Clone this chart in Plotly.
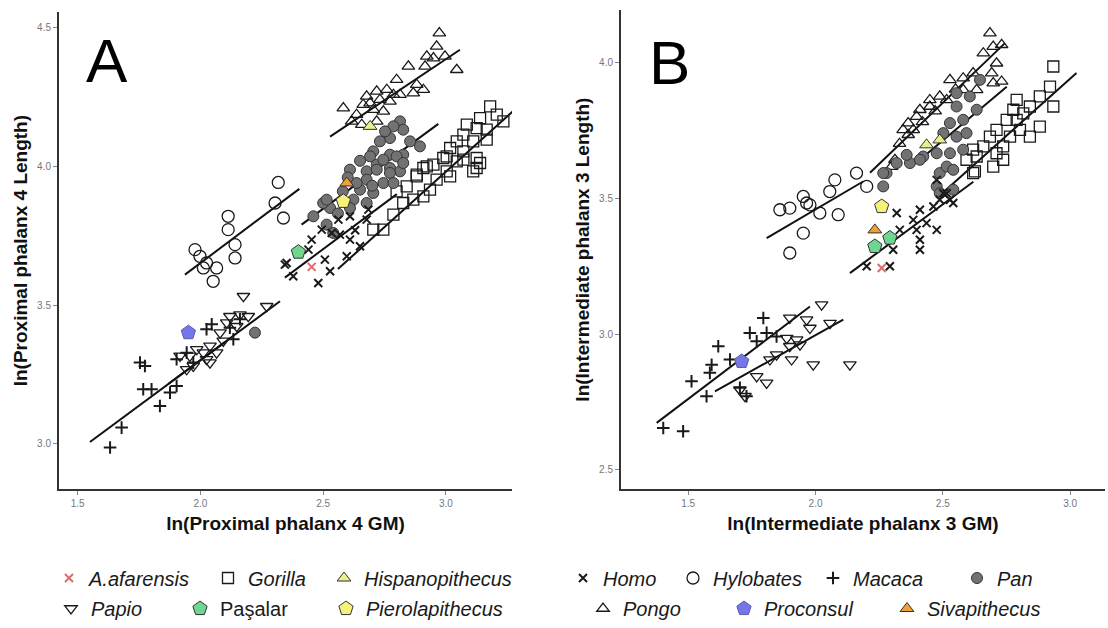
import plotly.graph_objects as go

# ---------------- Panel A : ln(Proximal phalanx 4 GM) vs ln(Proximal phalanx 4 Length)
A_pongo_x = [2.973, 2.962, 2.922, 2.949, 2.996, 2.915, 2.847, 3.044, 2.799, 2.881, 2.908, 2.867, 2.582, 2.677,
             2.718, 2.759, 2.691, 2.663, 2.731, 2.772, 2.786, 2.704, 2.745, 2.657, 2.718, 2.616, 2.636, 2.813]
A_pongo_y = [4.480, 4.432, 4.396, 4.390, 4.396, 4.360, 4.360, 4.348, 4.312, 4.294, 4.276, 4.264, 4.210, 4.252,
             4.270, 4.276, 4.228, 4.222, 4.240, 4.234, 4.258, 4.204, 4.198, 4.150, 4.162, 4.162, 4.186, 4.258]

A_pan_x = [2.813, 2.826, 2.786, 2.772, 2.854, 2.894, 2.731, 2.704, 2.772, 2.826, 2.718, 2.677, 2.772, 2.813, 2.752,
           2.691, 2.745, 2.799, 2.718, 2.772, 2.677, 2.745, 2.650, 2.704, 2.623, 2.677, 2.609, 2.528, 2.500, 2.636,
           2.609, 2.826, 2.786, 2.514, 2.541, 2.222, 2.600, 2.650, 2.700, 2.580, 2.560, 2.460, 2.514]
A_pan_y = [4.162, 4.132, 4.144, 4.102, 4.090, 4.072, 4.090, 4.054, 4.042, 4.042, 4.006, 3.982, 3.994, 3.982, 4.126,
           4.036, 4.024, 4.036, 3.988, 3.976, 3.952, 3.940, 3.916, 3.904, 3.880, 3.868, 3.850, 3.850, 3.868, 3.940,
           3.988, 4.012, 3.940, 3.790, 3.760, 3.401, 3.960, 4.020, 3.930, 3.910, 3.830, 3.820, 3.880]

A_gorilla_x = [3.180, 3.207, 3.234, 3.139, 3.125, 3.166, 3.085, 3.071, 3.111, 3.166, 3.044, 3.017, 3.071, 3.125,
               2.989, 3.044, 2.949, 3.003, 2.908, 2.881, 3.125, 3.003, 3.071, 3.139, 3.111, 3.017, 2.962, 2.922,
               2.881, 2.935, 2.840, 2.799, 2.867, 2.786, 2.745, 2.704, 2.826, 2.908]
A_gorilla_y = [4.216, 4.186, 4.162, 4.174, 4.138, 4.132, 4.150, 4.114, 4.090, 4.096, 4.090, 4.066, 4.054, 4.030,
               4.030, 4.018, 4.006, 3.982, 3.994, 3.970, 3.994, 4.036, 4.024, 4.012, 3.982, 3.964, 3.952, 4.000,
               3.964, 3.916, 3.928, 3.910, 3.880, 3.826, 3.772, 3.772, 3.868, 3.892]

A_homo_x = [2.344, 2.480, 2.528, 2.507, 2.596, 2.453, 2.494, 2.562, 2.609, 2.650, 2.677, 2.609, 2.568, 2.535,
            2.684, 2.378, 2.351, 2.440, 2.630]
A_homo_y = [3.646, 3.580, 3.622, 3.664, 3.676, 3.736, 3.772, 3.808, 3.820, 3.712, 3.808, 3.736, 3.754, 3.760,
            3.844, 3.604, 3.652, 3.700, 3.770]

A_hylobates_x = [2.317, 2.304, 2.338, 2.113, 2.113, 2.141, 2.141, 1.978, 1.998, 2.025, 2.066, 2.012, 2.052]
A_hylobates_y = [3.942, 3.868, 3.814, 3.820, 3.772, 3.718, 3.670, 3.700, 3.676, 3.652, 3.634, 3.634, 3.586]

A_macaca_x = [1.632, 1.679, 1.835, 1.767, 1.801, 1.774, 1.754, 1.876, 1.903, 2.025, 2.046, 1.903, 1.944, 1.971,
              2.134, 2.120, 2.161]
A_macaca_y = [2.987, 3.059, 3.137, 3.197, 3.197, 3.281, 3.293, 3.185, 3.209, 3.413, 3.431, 3.305, 3.329, 3.293,
              3.377, 3.419, 3.449]

A_papio_x = [2.175, 2.270, 2.120, 2.161, 2.195, 2.107, 2.148, 2.080, 2.039, 2.066, 2.025, 1.985, 1.957, 1.917,
             1.971, 1.944, 2.012, 2.039, 2.093]
A_papio_y = [3.532, 3.496, 3.460, 3.466, 3.460, 3.437, 3.424, 3.401, 3.353, 3.329, 3.305, 3.341, 3.317, 3.317,
             3.281, 3.269, 3.329, 3.293, 3.371]

A_afarensis_x, A_afarensis_y = [2.453], [3.638]
A_pasalar_x, A_pasalar_y = [2.399], [3.691]
A_pierola_x, A_pierola_y = [2.582], [3.874]
A_siva_x, A_siva_y = [2.596], [3.940]
A_hispano_x, A_hispano_y = [2.691], [4.144]
A_proconsul_x, A_proconsul_y = [1.951], [3.401]

# regression lines, panel A (x ends, y ends)
A_fit_pongo = ([2.528, 3.057], [4.107, 4.420])
A_fit_pan = ([2.412, 2.969], [3.790, 4.153])
A_fit_gorilla = ([2.560, 3.272], [3.630, 4.198])
A_fit_homo = ([2.344, 2.800], [3.599, 3.900])
A_fit_hylobates = ([1.937, 2.403], [3.610, 3.919])
A_fit_macaca = ([1.550, 2.100], [3.007, 3.367])
A_fit_papio = ([1.870, 2.324], [3.217, 3.514])

# ---------------- Panel B : ln(Intermediate phalanx 3 GM) vs ln(Intermediate phalanx 3 Length)
B_pongo_x = [2.685, 2.698, 2.731, 2.659, 2.711, 2.692, 2.731, 2.698, 2.619, 2.580, 2.528, 2.449, 2.488, 2.410,
             2.397, 2.364, 2.384, 2.344, 2.449, 2.515, 2.580, 2.633, 2.364, 2.312, 2.299, 2.420, 2.470, 2.550, 2.330]
B_pongo_y = [4.107, 4.057, 4.064, 4.033, 3.996, 3.960, 3.929, 3.923, 3.960, 3.941, 3.935, 3.861, 3.874, 3.825,
             3.800, 3.776, 3.751, 3.751, 3.837, 3.861, 3.898, 3.898, 3.733, 3.641, 3.616, 3.780, 3.820, 3.900, 3.700]

B_pan_x = [2.554, 2.606, 2.633, 2.580, 2.528, 2.502, 2.554, 2.593, 2.528, 2.580, 2.476, 2.423, 2.371, 2.319,
           2.279, 2.266, 2.488, 2.476, 2.515, 2.646, 2.554, 2.266, 2.358, 2.410, 2.488, 2.541, 2.541]
B_pan_y = [3.837, 3.874, 3.825, 3.788, 3.776, 3.739, 3.726, 3.739, 3.665, 3.678, 3.665, 3.653, 3.629, 3.629,
           3.592, 3.543, 3.592, 3.543, 3.616, 3.935, 3.886, 3.592, 3.659, 3.641, 3.518, 3.531, 3.604]

B_gorilla_x = [2.934, 2.934, 2.921, 2.881, 2.842, 2.790, 2.777, 2.816, 2.881, 2.842, 2.803, 2.751, 2.711, 2.764,
               2.737, 2.685, 2.659, 2.619, 2.633, 2.711, 2.737, 2.698, 2.619, 2.593, 2.790, 2.626]
B_gorilla_y = [3.984, 3.837, 3.910, 3.874, 3.837, 3.861, 3.825, 3.812, 3.763, 3.726, 3.751, 3.788, 3.751, 3.726,
               3.690, 3.726, 3.690, 3.678, 3.653, 3.665, 3.641, 3.616, 3.592, 3.641, 3.788, 3.598]

B_homo_x = [2.319, 2.201, 2.292, 2.305, 2.331, 2.384, 2.410, 2.436, 2.476, 2.410, 2.410, 2.463, 2.488, 2.515,
            2.541, 2.397, 2.476, 2.502, 2.528]
B_homo_y = [3.445, 3.249, 3.249, 3.310, 3.383, 3.420, 3.457, 3.408, 3.383, 3.347, 3.310, 3.469, 3.494, 3.518,
            3.482, 3.383, 3.567, 3.518, 3.494]

B_hylobates_x = [2.161, 2.201, 2.076, 2.056, 1.952, 1.978, 1.899, 2.017, 2.089, 1.952, 1.899, 1.860, 1.965]
B_hylobates_y = [3.592, 3.543, 3.567, 3.524, 3.506, 3.475, 3.463, 3.445, 3.439, 3.371, 3.298, 3.457, 3.482]

B_macaca_x = [1.402, 1.480, 1.513, 1.572, 1.585, 1.618, 1.664, 1.742, 1.795, 1.769, 1.808, 1.729, 1.703, 1.592,
              1.847]
B_macaca_y = [2.654, 2.642, 2.826, 2.771, 2.857, 2.955, 2.906, 3.004, 3.059, 2.973, 3.004, 2.771, 2.802, 2.887,
              2.991]

B_papio_x = [2.024, 1.965, 1.899, 2.057, 1.978, 1.887, 1.926, 1.899, 1.939, 1.906, 1.991, 2.135, 1.808, 1.703,
             1.723, 1.821, 1.769, 1.847]
B_papio_y = [3.108, 3.053, 3.059, 3.040, 3.022, 2.985, 2.979, 2.955, 2.961, 2.906, 2.887, 2.887, 2.820, 2.795,
             2.771, 2.906, 2.844, 2.924]

B_afarensis_x, B_afarensis_y = [2.260], [3.243]
B_pasalar_x, B_pasalar_y = [2.233, 2.292], [3.322, 3.353]
B_pierola_x, B_pierola_y = [2.260], [3.469]
B_siva_x, B_siva_y = [2.233], [3.383]
B_hispano_x, B_hispano_y = [2.436, 2.488], [3.696, 3.714]
B_proconsul_x, B_proconsul_y = [1.710], [2.899]

B_fit_pongo = ([2.214, 2.744], [3.593, 4.070])
B_fit_pan = ([2.410, 2.751], [3.641, 3.910])
B_fit_gorilla = ([2.500, 3.025], [3.520, 3.960])
B_fit_homo = ([2.135, 2.620], [3.224, 3.560])
B_fit_hylobates = ([1.808, 2.187], [3.353, 3.561])
B_fit_macaca = ([1.376, 1.978], [2.673, 3.101])
B_fit_papio = ([1.605, 2.109], [2.789, 3.053])

# axis labels / ticks
A_xtitle = "ln(Proximal phalanx 4 GM)"
A_ytitle = "ln(Proximal phalanx 4 Length)"
B_xtitle = "ln(Intermediate phalanx 3 GM)"
B_ytitle = "ln(Intermediate phalanx 3 Length)"
A_xticks = [1.5, 2.0, 2.5, 3.0]
A_yticks = [3.0, 3.5, 4.0, 4.5]
B_xticks = [1.5, 2.0, 2.5, 3.0]
B_yticks = [2.5, 3.0, 3.5, 4.0]

# ---------------- styles
FONT = "Liberation Sans, Arial, sans-serif"
W, H = 1108, 628
species = [
    # name, label, symbol, size, marker style, A data, B data, legend text-start px, legend row
    ("A.afarensis", "<i>A.afarensis</i>", "x-thin", 8, dict(color="#e06a6a", line=dict(color="#e06a6a", width=2)),
     (A_afarensis_x, A_afarensis_y), (B_afarensis_x, B_afarensis_y), 88, 0),
    ("Gorilla", "<i>Gorilla</i>", "square-open", 11, dict(color="#1a1a1a", line=dict(width=1.3)),
     (A_gorilla_x, A_gorilla_y), (B_gorilla_x, B_gorilla_y), 247, 0),
    ("Hispanopithecus", "<i>Hispanopithecus</i>", "triangle-up", 12, dict(color="#e9f08a", line=dict(color="#333", width=1)),
     (A_hispano_x, A_hispano_y), (B_hispano_x, B_hispano_y), 363, 0),
    ("Homo", "<i>Homo</i>", "x-thin", 8, dict(color="#1a1a1a", line=dict(color="#1a1a1a", width=2)),
     (A_homo_x, A_homo_y), (B_homo_x, B_homo_y), 602, 0),
    ("Hylobates", "<i>Hylobates</i>", "circle-open", 12, dict(color="#1a1a1a", line=dict(width=1.3)),
     (A_hylobates_x, A_hylobates_y), (B_hylobates_x, B_hylobates_y), 712, 0),
    ("Macaca", "<i>Macaca</i>", "cross-thin", 9, dict(color="#1a1a1a", line=dict(color="#1a1a1a", width=2)),
     (A_macaca_x, A_macaca_y), (B_macaca_x, B_macaca_y), 852, 0),
    ("Pan", "<i>Pan</i>", "circle", 11, dict(color="#727272", line=dict(color="#333", width=1)),
     (A_pan_x, A_pan_y), (B_pan_x, B_pan_y), 996, 0),
    ("Papio", "<i>Papio</i>", "triangle-down-open", 11, dict(color="#1a1a1a", line=dict(width=1.3)),
     (A_papio_x, A_papio_y), (B_papio_x, B_papio_y), 90, 1),
    ("Paşalar", "Paşalar", "pentagon", 15, dict(color="#6ed68e", line=dict(color="#333", width=1)),
     (A_pasalar_x, A_pasalar_y), (B_pasalar_x, B_pasalar_y), 219, 1),
    ("Pierolapithecus", "<i>Pierolapithecus</i>", "pentagon", 15, dict(color="#f4f27a", line=dict(color="#333", width=1)),
     (A_pierola_x, A_pierola_y), (B_pierola_x, B_pierola_y), 365, 1),
    ("Pongo", "<i>Pongo</i>", "triangle-up-open", 11, dict(color="#1a1a1a", line=dict(width=1.3)),
     (A_pongo_x, A_pongo_y), (B_pongo_x, B_pongo_y), 622, 1),
    ("Proconsul", "<i>Proconsul</i>", "pentagon", 15, dict(color="#7676e6", line=dict(color="#5a5ab0", width=1)),
     (A_proconsul_x, A_proconsul_y), (B_proconsul_x, B_proconsul_y), 763, 1),
    ("Sivapithecus", "<i>Sivapithecus</i>", "triangle-up", 12, dict(color="#f0a030", line=dict(color="#333", width=1)),
     (A_siva_x, A_siva_y), (B_siva_x, B_siva_y), 926, 1),
]
fits_A = [A_fit_pongo, A_fit_pan, A_fit_gorilla, A_fit_homo, A_fit_hylobates, A_fit_macaca, A_fit_papio]
fits_B = [B_fit_pongo, B_fit_pan, B_fit_gorilla, B_fit_homo, B_fit_hylobates, B_fit_macaca, B_fit_papio]

fig = go.Figure()

# regression lines first (under markers)
for fx, fy in fits_A:
    fig.add_trace(go.Scatter(x=fx, y=fy, mode="lines", line=dict(color="#111", width=2),
                             showlegend=False, hoverinfo="skip", xaxis="x", yaxis="y"))
for fx, fy in fits_B:
    fig.add_trace(go.Scatter(x=fx, y=fy, mode="lines", line=dict(color="#111", width=2),
                             showlegend=False, hoverinfo="skip", xaxis="x2", yaxis="y2"))

draw_order = ["Gorilla", "Pongo", "Pan", "Hylobates", "Papio", "Homo", "Macaca",
              "A.afarensis", "Hispanopithecus", "Paşalar", "Pierolapithecus", "Proconsul", "Sivapithecus"]
by_name = {s[0]: s for s in species}
legend_ids = {s[0]: ("legend" if i == 0 else "legend%d" % (i + 1)) for i, s in enumerate(species)}

for name in draw_order:
    nm, label, sym, size, mstyle, dA, dB, tx, row = by_name[name]
    lid = legend_ids[nm]
    for k, (d, xa, ya) in enumerate([(dA, "x", "y"), (dB, "x2", "y2")]):
        fig.add_trace(go.Scatter(
            x=d[0], y=d[1], mode="markers", name=label, legendgroup=nm,
            showlegend=(k == 0), legend=lid, xaxis=xa, yaxis=ya,
            marker=dict(symbol=sym, size=size, **mstyle)))

legend_layout = {}
for s in species:
    nm, label, sym, size, mstyle, dA, dB, tx, row = s
    legend_layout[legend_ids[nm]] = dict(
        x=(tx - 39) / W, y=1 - (578 if row == 0 else 609) / H, xanchor="left", yanchor="middle",
        bgcolor="rgba(0,0,0,0)", borderwidth=0,
        font=dict(family=FONT, size=20, color="#1a1a1a"))

axis_common = dict(showline=True, linecolor="#333", linewidth=2, ticks="outside", ticklen=4,
                   tickcolor="#888", tickwidth=1, showgrid=False, zeroline=False, mirror=False,
                   tickfont=dict(family=FONT, size=10, color="#777"), tickformat=".1f",
                   automargin=False)
title_font = dict(family=FONT, size=19, color="#111", weight="bold")

fig.update_layout(
    width=W, height=H, margin=dict(l=0, r=0, t=0, b=0),
    paper_bgcolor="white", plot_bgcolor="white",
    font=dict(family=FONT),
    xaxis=dict(domain=[59 / W, 512 / W], range=[1.424, 3.269], tickvals=A_xticks,
               title=dict(text=A_xtitle, font=title_font, standoff=8), anchor="y", **axis_common),
    yaxis=dict(domain=[1 - 490 / H, 1 - 12 / H], range=[2.837, 4.556], tickvals=A_yticks,
               title=dict(text=A_ytitle, font=title_font, standoff=4), anchor="x", **axis_common),
    xaxis2=dict(domain=[621 / W, 1105 / W], range=[1.236, 3.137], tickvals=B_xticks,
                title=dict(text=B_xtitle, font=title_font, standoff=8), anchor="y2", **axis_common),
    yaxis2=dict(domain=[1 - 490 / H, 1 - 10 / H], range=[2.429, 4.192], tickvals=B_yticks,
                title=dict(text=B_ytitle, font=title_font, standoff=4), anchor="x2", **axis_common),
    annotations=[
        dict(text="A", x=107 / W, y=1 - 61 / H, xref="paper", yref="paper", showarrow=False,
             font=dict(family=FONT, size=62, color="#000"), xanchor="center", yanchor="middle"),
        dict(text="B", x=669 / W, y=1 - 63 / H, xref="paper", yref="paper", showarrow=False,
             font=dict(family=FONT, size=62, color="#000"), xanchor="center", yanchor="middle"),
    ],
    **legend_layout,
)

fig.write_html("out.html")
